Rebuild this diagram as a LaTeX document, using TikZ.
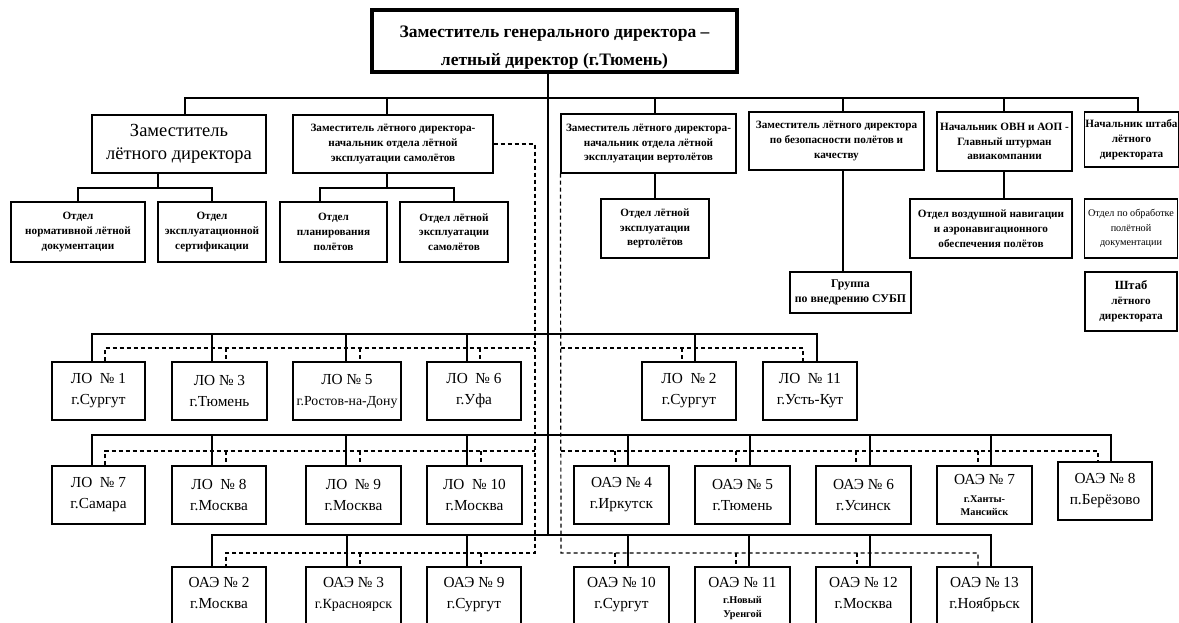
\documentclass[tikz,border=0pt]{standalone}
\usepackage{fontspec}
\setmainfont{Liberation Serif}
\newcommand\fTop{\fontsize{17.5}{28}\selectfont\bfseries}
\newcommand\fBig{\fontsize{18.5}{23}\selectfont}
\newcommand\fSm{\fontsize{11.2}{14.8}\selectfont\bfseries}
\newcommand\fSmR{\fontsize{10.2}{14.5}\selectfont}
\newcommand\fRow{\fontsize{15.3}{21}\selectfont}
\newcommand\fTiny{\fontsize{10.3}{12}\selectfont\bfseries}
\begin{document}
\begin{tikzpicture}[x=1pt,y=-1pt,
  box/.style={draw=black, line width=1.2pt, inner sep=1pt, align=center},
  smbox/.style={box, font=\fSm},
  rowbox/.style={box, minimum height=58pt, font=\fRow},
  lowbox/.style={box, minimum height=73pt},
  rowtxt/.style={anchor=north, inner sep=0pt, align=center, font=\fRow},
  conn/.style={line width=1.3pt},
  dsh/.style={line width=1.2pt, dash pattern=on 4pt off 3pt}]
\useasboundingbox (0,0) rectangle (1179,623);
\clip (0,0) rectangle (1179,623);

% ---------- top level ----------
\node[box, line width=4pt, minimum width=365pt, minimum height=62pt] (T) at (554.5,41) {};
\node[font=\fTop, align=center, inner sep=0pt] (Tt) at (554.5,48) {Заместитель генерального директора –\\летный директор (г.Тюмень)};

\node[box, font=\fBig, minimum width=174pt, minimum height=58pt] (B1) at (179,144) {Заместитель\\лётного директора};
\node[smbox, minimum width=200pt, minimum height=58pt] (B2) at (393,144) {Заместитель лётного директора-\\начальник отдела лётной\\эксплуатации самолётов};
\node[smbox, minimum width=175pt, minimum height=59pt] (B3) at (648.5,143.5) {Заместитель лётного директора-\\начальник отдела лётной\\эксплуатации вертолётов};
\node[smbox, minimum width=175pt, minimum height=58pt] (B4) at (836.5,141) {Заместитель лётного директора\\по безопасности полётов и\\качеству};
\node[smbox, minimum width=135pt, minimum height=59pt] (B5) at (1004.5,141.5) {Начальник ОВН и АОП -\\Главный штурман\\авиакомпании};
\node[smbox, minimum width=92pt, minimum height=55pt] (B6) at (1131.5,139.5) {Начальник штаба\\лётного\\директората};

% ---------- departments ----------
\node[smbox, minimum width=134pt, minimum height=60pt] (A) at (78,232) {Отдел\\нормативной лётной\\документации};
\node[smbox, minimum width=108pt, minimum height=60pt] (Bb) at (212,232) {Отдел\\эксплуатационной\\сертификации};
\node[smbox, minimum width=107pt, minimum height=60pt] (C) at (333.5,232) {Отдел\\планирования\\полётов};
\node[smbox, minimum width=108pt, minimum height=60pt] (D) at (454,232) {Отдел лётной\\эксплуатации\\самолётов};
\node[smbox, minimum width=108pt, minimum height=59pt] (E) at (655,228.5) {Отдел лётной\\эксплуатации\\вертолётов};
\node[box, font=\fontsize{11.8}{15}\selectfont\bfseries, minimum width=121pt, minimum height=41pt] (F) at (850.5,292.5) {Группа\\по внедрению СУБП};
\node[smbox, minimum width=162pt, minimum height=59pt] (G) at (991,228.5) {Отдел воздушной навигации\\и аэронавигационного\\обеспечения полётов};
\node[box, font=\fSmR, minimum width=93pt, minimum height=59pt] (H) at (1131,228.5) {Отдел по обработке\\полётной\\документации};
\node[smbox, minimum width=92pt, minimum height=59pt] (I) at (1131,301.5) {{\fontsize{12.5}{16}\selectfont Штаб}\\лётного\\директората};

% ---------- row 1 ----------
\node[rowbox, minimum width=93pt] (L1) at (98.5,391) {ЛО \ № 1\\г.Сургут};
\node[rowbox, minimum width=95pt] (L3) at (219.5,391) {ЛО № 3\\г.Тюмень};
\node[rowbox, minimum width=108pt] (L5) at (347,391) {ЛО № 5\\{\fontsize{13.8}{21}\selectfont г.Ростов-на-Дону}};
\node[rowbox, minimum width=94pt] (L6) at (474,391) {ЛО \ № 6\\г.Уфа};
\node[rowbox, minimum width=94pt] (L2) at (689,391) {ЛО \ № 2\\г.Сургут};
\node[rowbox, minimum width=94pt] (L11) at (810,391) {ЛО \ № 11\\г.Усть-Кут};

% ---------- row 2 ----------
\node[rowbox, minimum width=93pt] (L7) at (98.5,495) {ЛО \ № 7\\г.Самара};
\node[rowbox, minimum width=94pt] (L8) at (219,495) {ЛО \ № 8\\г.Москва};
\node[rowbox, minimum width=95pt] (L9) at (353.5,495) {ЛО \ № 9\\г.Москва};
\node[rowbox, minimum width=95pt] (L10) at (474.5,495) {ЛО \ № 10\\г.Москва};
\node[rowbox, minimum width=95pt] (O4) at (621.5,495) {ОАЭ № 4\\г.Иркутск};
\node[rowbox, minimum width=95pt] (O5) at (742.5,495) {ОАЭ № 5\\г.Тюмень};
\node[rowbox, minimum width=95pt] (O6) at (863.5,495) {ОАЭ № 6\\г.Усинск};
\node[rowbox, minimum width=95pt] (O7) at (984.5,495) {ОАЭ № 7\\[-3pt]{\fTiny г.Ханты-}\\[-8pt]{\fTiny Мансийск}};
\node[rowbox, minimum width=94pt] (O8) at (1105,491) {ОАЭ № 8\\п.Берёзово};

% ---------- row 3 ----------
\node[lowbox, minimum width=94pt] (O2) at (219,603.5) {};
\node[lowbox, minimum width=95pt] (O3) at (353.5,603.5) {};
\node[lowbox, minimum width=94pt] (O9) at (474,603.5) {};
\node[lowbox, minimum width=95pt] (O10) at (621.5,603.5) {};
\node[lowbox, minimum width=95pt] (O11) at (742.5,603.5) {};
\node[lowbox, minimum width=95pt] (O12) at (863.5,603.5) {};
\node[lowbox, minimum width=95pt] (O13) at (984.5,603.5) {};
\node[rowtxt] (O2t) at (219,577.5) {ОАЭ № 2\\г.Москва};
\node[rowtxt] (O3t) at (353.5,577.5) {ОАЭ № 3\\{\fontsize{14}{21}\selectfont г.Красноярск}};
\node[rowtxt] (O9t) at (474,577.5) {ОАЭ № 9\\г.Сургут};
\node[rowtxt] (O10t) at (621.5,577.5) {ОАЭ № 10\\г.Сургут};
\node[rowtxt] (O11t) at (742.5,577.5) {ОАЭ № 11\\[-5pt]{\fTiny г.Новый}\\[-7pt]{\fTiny Уренгой}};
\node[rowtxt] (O12t) at (863.5,577.5) {ОАЭ № 12\\г.Москва};
\node[rowtxt] (O13t) at (984.5,577.5) {ОАЭ № 13\\г.Ноябрьск};

% ---------- solid connectors ----------
\draw[conn] (T.south -| 548,0) -- (548,535);
\draw[conn] (B1.north -| 185,0) -- (185,98) -- (1138,98) -- (B6.north -| 1138,0);
\foreach \n/\x in {B2/387, B3/655, B4/843, B5/1004}
  \draw[conn] (\x,98) -- (\n.north -| \x,0);
\draw[conn] (B1.south -| 158,0) -- (158,188);
\draw[conn] (A.north) -- (78,188) -- (212,188) -- (Bb.north);
\draw[conn] (B2.south -| 387,0) -- (387,188);
\draw[conn] (C.north -| 320,0) -- (320,188) -- (454,188) -- (D.north);
\draw[conn] (B3.south -| E.north) -- (E.north);
\draw[conn] (B4.south -| 843,0) -- (F.north -| 843,0);
\draw[conn] (B5.south -| 1004,0) -- (G.north -| 1004,0);

% row 1
\draw[conn] (L1.north -| 92,0) -- (92,334) -- (817,334) -- (L11.north -| 817,0);
\foreach \n/\x in {L3/212, L5/346, L6/467, L2/695}
  \draw[conn] (\x,334) -- (\n.north -| \x,0);
% row 2
\draw[conn] (L7.north -| 92,0) -- (92,435) -- (1111,435) -- (O8.north -| 1111,0);
\foreach \n/\x in {L8/212, L9/346, L10/467, O4/628, O5/750, O6/870, O7/991}
  \draw[conn] (\x,435) -- (\n.north -| \x,0);
% row 3
\draw[conn] (O2.north -| 212,0) -- (212,535) -- (991,535) -- (O13.north -| 991,0);
\foreach \n/\x in {O3/347, O9/467, O10/628, O11/749, O12/870}
  \draw[conn] (\x,535) -- (\n.north -| \x,0);

% ---------- dashed connectors ----------
\draw[dsh] (B2.east) -- (535,144) -- (535,553) -- (226,553) -- (O2.north -| 226,0);
\draw[dsh] (B3.south west) -- (561,553) -- (978,553) -- (O13.north -| 978,0);
\foreach \n/\x in {O3/360, O9/481, O10/615, O11/736, O12/857}
  \draw[dsh] (\x,553) -- (\n.north -| \x,0);
% row 1 dashed
\draw[dsh] (L1.north -| 105,0) -- (105,348) -- (535,348);
\draw[dsh] (561,348) -- (803,348) -- (L11.north -| 803,0);
\foreach \n/\x in {L3/226, L5/360, L6/480, L2/682}
  \draw[dsh] (\x,348) -- (\n.north -| \x,0);
% row 2 dashed
\draw[dsh] (L7.north -| 105,0) -- (105,451) -- (535,451);
\draw[dsh] (561,451) -- (1098,451) -- (O8.north -| 1098,0);
\foreach \n/\x in {L8/226, L9/360, L10/481, O4/615, O5/736, O6/856, O7/978}
  \draw[dsh] (\x,451) -- (\n.north -| \x,0);
\end{tikzpicture}
\end{document}
